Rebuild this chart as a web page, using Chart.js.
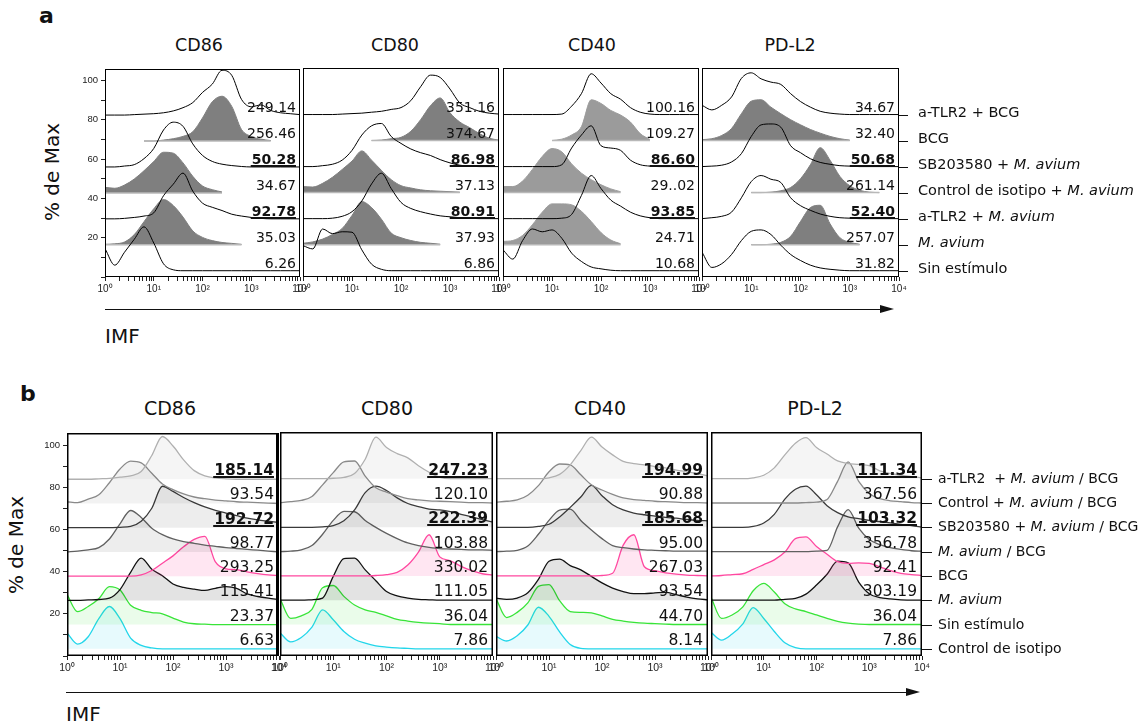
<!DOCTYPE html>
<html><head><meta charset="utf-8">
<script src="https://cdn.jsdelivr.net/npm/chart.js@4.4.1/dist/chart.umd.min.js"></script>
<style>
html,body{margin:0;padding:0;background:#fff;}
body{width:1148px;height:726px;position:relative;overflow:hidden;font-family:"DejaVu Sans",sans-serif;color:#111;}
.t{position:absolute;white-space:nowrap;line-height:1;}
.c{text-align:center;width:120px;}
canvas{position:absolute;}
.arrow{position:absolute;height:0;border-top:1.5px solid #111;}
.head{position:absolute;width:0;height:0;border-top:4px solid transparent;border-bottom:4px solid transparent;border-left:14px solid #111;}
.rot{transform:translate(-50%,-50%) rotate(-90deg);}
</style></head><body>
<div class="t" style="left:39px;top:5px;font-size:22px;font-weight:bold">a</div>
<div class="t" style="left:20px;top:383px;font-size:22px;font-weight:bold">b</div>
<div class="t c" style="left:139px;top:37px;font-size:17.5px">CD86</div>
<div class="t c" style="left:335px;top:37px;font-size:17.5px">CD80</div>
<div class="t c" style="left:532px;top:37px;font-size:17.5px">CD40</div>
<div class="t c" style="left:730px;top:37px;font-size:17.5px">PD-L2</div>
<div class="t c" style="left:110px;top:399px;font-size:19px">CD86</div>
<div class="t c" style="left:327px;top:399px;font-size:19px">CD80</div>
<div class="t c" style="left:540px;top:399px;font-size:19px">CD40</div>
<div class="t c" style="left:755px;top:399px;font-size:19px">PD-L2</div>
<div class="t rot" style="left:52px;top:172px;font-size:20px">% de Max</div>
<div class="t rot" style="left:16px;top:545px;font-size:20px">% de Max</div>
<div class="t" style="left:105px;top:326px;font-size:20px">IMF</div>
<div class="t" style="left:66px;top:704px;font-size:20px">IMF</div>
<div class="arrow" style="left:105px;top:308.5px;width:778px"></div>
<div class="head" style="left:880px;top:305px"></div>
<div class="arrow" style="left:66px;top:691.5px;width:842px"></div>
<div class="head" style="left:906px;top:688px"></div>
<script>
// ---------- DATA ----------
const LOG_GRID = [0,0.2,0.4,0.6,0.8,1,1.2,1.4,1.6,1.8,2,2.2,2.4,2.6,2.8,3,3.2,3.4,3.6,3.8,4];
const MARKERS = ['CD86','CD80','CD40','PD-L2'];
const Y_TICKS = [0,10,20,30,40,50,60,70,80,90,100];

// panel a (top to bottom)
const A_LABELS = ['a-TLR2 + BCG','BCG','SB203580 + *M. avium*','Control de isotipo + *M. avium*','a-TLR2 + *M. avium*','*M. avium*','Sin estímulo'];
const A_FILLED = [false,true,false,true,false,true,false];
const A_BOLD = [2,4];
const A_MFI_CD86 = ['249.14','256.46','50.28','34.67','92.78','35.03','6.26'];
const A_MFI_CD80 = ['351.16','374.67','86.98','37.13','80.91','37.93','6.86'];
const A_MFI_CD40 = ['100.16','109.27','86.60','29..02','93.85','24.71','10.68'];
const A_MFI_PDL2 = ['34.67','32.40','50.68','261.14','52.40','257.07','31.82'];
const A_CD86 = [
 [0,0,0,1,2,3,5,9,16,27,49,67,97,86,34,18,22,10,5,3,1],
 [null,null,null,null,0,0,2,5,10,20,50,85,97,75,25,10,4,1,null,null,null],
 [0,0,2,5,18,40,80,97,88,50,25,12,6,3,1,0,0,0,0,0,0],
 [12,10,17,30,48,68,88,86,65,36,15,7,2,null,null,null,null,null,null,null,null],
 [0,0,1,3,6,13,50,75,99,60,34,25,18,10,6,3,1,0,0,0,0],
 [1,2,6,22,50,78,98,85,60,30,16,9,5,3,1,null,null,null,null,null,null],
 [48,12,40,68,95,60,15,2,0,0,0,0,0,0,0,0,0,0,0,0,0]];
const A_CD80 = [
 [0,0,0,0,1,2,3,5,7,11,15,30,60,85,80,55,25,15,7,3,1],
 [null,null,null,null,null,null,null,0,1,4,7,20,45,75,92,60,40,28,15,5,1],
 [0,0,2,5,14,35,68,88,93,65,50,38,30,24,15,8,3,1,0,0,0],
 [13,12,20,33,50,68,90,70,48,28,15,10,6,4,3,2,1,null,null,null,null],
 [0,0,0,1,5,15,38,75,98,65,35,22,15,10,6,4,2,1,0,0,0],
 [3,6,12,22,35,63,93,80,55,25,15,9,5,3,1,null,null,null,null,null,null],
 [54,47,90,80,84,83,45,14,3,0,0,0,0,0,0,0,0,0,0,0,0]];
const A_CD40 = [
 [0,0,0,0,0,0,1,18,45,88,68,45,33,15,5,1,0,0,0,0,0],
 [null,null,null,null,null,0,3,12,30,88,80,65,55,40,15,2,null,null,null,null,null],
 [0,0,0,0,0,0,4,40,68,88,45,40,35,14,4,1,0,0,0,0,0],
 [13,13,25,50,78,95,88,62,42,28,17,8,2,null,null,null,null,null,null,null,null],
 [0,0,0,0,0,0,1,9,50,93,65,40,27,14,6,2,0,0,0,0,0],
 [7,9,20,43,70,88,88,86,72,50,26,10,2,null,null,null,null,null,null,null,null],
 [45,25,65,90,84,88,70,38,20,8,4,1,0,0,0,0,0,0,0,0,0]];
const A_PDL2 = [
 [20,10,20,38,78,90,77,70,65,45,28,16,7,3,1,0,0,0,0,0,0],
 [2,4,11,26,58,85,88,72,58,45,34,24,16,9,4,1,null,null,null,null,null],
 [0,1,3,10,28,65,90,92,85,45,30,17,9,5,2,1,0,0,0,0,0],
 [null,null,null,null,null,0,0,1,4,11,30,60,97,70,35,15,5,1,0,null,null],
 [0,2,5,14,45,80,93,85,78,45,28,18,10,5,2,1,0,0,0,0,0],
 [null,null,null,null,null,0,0,1,5,18,50,80,85,45,15,5,1,null,null,null,null],
 [40,7,15,35,65,85,88,78,55,35,22,12,6,3,1,0,0,0,0,0,0]];

// panel b (top to bottom)
const B_LABELS = ['a-TLR2  + *M. avium* / BCG','Control + *M. avium* / BCG','SB203580 + *M. avium* / BCG','*M. avium* / BCG','BCG','*M. avium*','Sin estímulo','Control de isotipo'];
const B_BOLD = [0,2];
const B_MFI_CD86 = ['185.14','93.54','192.72','98.77','293.25','115.41','23.37','6.63'];
const B_MFI_CD80 = ['247.23','120.10','222.39','103.88','330.02','111.05','36.04','7.86'];
const B_MFI_CD40 = ['194.99','90.88','185.68','95.00','267.03','93.54','44.70','8.14'];
const B_MFI_PDL2 = ['111.34','367.56','103.32','356.78','92.41','303.19','36.04','7.86'];
const B_CD86 = [
 [0,0,0,1,2,5,8,18,55,99,77,45,20,8,3,1,0,0,0,0,0],
 [4,2,10,20,48,80,98,94,70,45,32,22,15,11,8,6,4,3,2,1,0],
 [0,0,0,0,0,1,3,15,45,96,84,70,58,48,40,34,28,22,18,15,12],
 [0,2,5,10,30,65,96,80,55,40,30,24,20,16,13,10,8,6,4,2,0],
 [0,0,0,0,0,0,0,3,13,30,47,68,85,92,33,17,15,10,6,3,1],
 [0,0,1,2,5,25,65,98,72,57,38,30,26,23,28,32,28,15,9,5,2],
 [70,30,42,60,88,80,45,33,28,25,15,6,2,1,0,0,0,0,0,0,0],
 [37,11,28,70,98,70,25,8,2,0,0,0,0,0,0,0,0,0,0,0,0]];
const B_CD80 = [
 [0,0,0,0,0,1,3,12,45,96,72,58,48,30,15,3,0,0,0,0,0],
 [1,3,6,15,42,70,95,97,62,35,25,17,10,7,5,4,3,2,1,1,0],
 [0,0,0,0,1,4,15,40,80,95,85,68,55,48,42,40,36,30,24,18,12],
 [0,1,4,14,40,72,93,92,72,56,42,30,20,14,10,7,6,5,4,4,3],
 [0,0,0,0,0,0,0,0,0,1,3,8,25,55,95,44,35,22,12,5,2],
 [0,0,0,1,5,55,96,97,70,45,20,10,5,2,1,0,0,0,0,0,0],
 [60,14,20,35,85,90,65,45,34,28,20,12,8,5,3,2,0,0,0,0,0],
 [37,16,26,50,90,67,40,22,13,7,4,2,1,0,0,0,0,0,0,0,0]];
const B_CD40 = [
 [0,0,0,0,0,2,10,32,65,96,73,55,40,35,32,28,25,20,16,12,6],
 [2,4,7,18,40,72,90,88,65,42,30,20,12,8,6,4,3,2,1,1,0],
 [0,0,0,0,2,7,24,46,70,97,73,52,40,33,29,26,23,21,18,16,15],
 [0,1,3,13,40,72,96,98,72,50,30,14,9,6,4,3,2,1,1,1,1],
 [0,0,0,0,0,0,0,0,0,0,1,6,71,95,21,12,7,4,2,1,0],
 [5,2,5,17,48,90,95,80,70,55,40,28,20,15,15,17,18,13,7,3,1],
 [60,16,28,50,88,92,55,30,28,27,20,12,8,5,3,2,1,0,0,0,0],
 [29,18,30,55,96,75,39,10,1,0,0,0,0,0,0,0,0,0,0,0,0]];
const B_PDL2 = [
 [0,0,0,0,2,8,25,55,82,95,72,57,41,35,33,30,18,12,8,5,2],
 [0,0,0,0,0,0,0,0,0,1,2,8,50,95,50,22,10,5,3,1,0],
 [0,0,0,0,2,10,30,65,88,95,75,50,34,24,20,16,13,10,7,4,0],
 [0,0,0,0,0,0,0,0,0,0,1,3,57,97,54,28,16,9,5,2,1],
 [0,1,3,5,15,26,37,55,86,90,68,50,33,29,30,29,21,12,6,3,1],
 [0,0,0,0,0,0,0,2,4,14,35,60,90,86,42,15,6,3,1,0,0],
 [63,14,22,40,78,95,75,48,36,30,22,14,7,3,1,0,0,0,0,0,0],
 [38,20,34,57,95,70,40,14,3,0,0,0,0,0,0,0,0,0,0,0,0]];

// ---------- STYLE / LAYOUT ----------
const B_LINE = ['#b0b0b0','#8a8a8a','#3a3a3a','#606060','#ff48a0','#111111','#38e438','#22d6ea'];
const B_FILL = ['rgba(0,0,0,0.04)','rgba(0,0,0,0.05)','rgba(0,0,0,0.07)','rgba(0,0,0,0.07)','rgba(255,80,160,0.14)','rgba(0,0,0,0.11)','rgba(60,225,60,0.11)','rgba(40,210,235,0.11)'];
const A_FILLCOL = ['#7f7f7f','#7f7f7f','#9b9b9b','#7f7f7f'];
const SUP = ['\u2070','\u00b9','\u00b2','\u00b3','\u2074'];
const YW = 45, PT = 8, XH = 24;

const X_TICKS = [];
for (let e = 0; e < 4; e++) for (let m = 1; m < 10; m++) X_TICKS.push(m * Math.pow(10, e));
X_TICKS.push(10000);

const overlay = {
  id: 'overlay',
  afterDatasetsDraw(chart, args, o) {
    const ctx = chart.ctx, a = chart.chartArea, y = chart.scales.y;
    ctx.save();
    ctx.strokeStyle = '#000'; ctx.lineWidth = o.frame;
    const L = Math.round(a.left), T = Math.round(a.top), R = Math.round(a.right), B = Math.round(a.bottom);
    const h = o.frame / 2;
    ctx.strokeRect(L + h, T + h, R - L - o.frame, B - T - o.frame);
    if (o.rightExtra) { ctx.lineWidth = o.rightExtra; ctx.beginPath(); ctx.moveTo(R - o.rightExtra/2, T); ctx.lineTo(R - o.rightExtra/2, B); ctx.stroke(); }
    const n = o.mfi.length;
    ctx.fillStyle = '#111'; ctx.textAlign = 'right'; ctx.textBaseline = 'alphabetic';
    o.mfi.forEach((txt, k) => {
      const base = o.base0 + (n - 1 - k) * o.step;
      const py = Math.round(y.getPixelForValue(base)) - o.lift;
      const bold = o.bold.includes(k);
      ctx.font = (bold ? 'bold ' : '') + o.fs + 'px "DejaVu Sans"';
      const xr = a.right - o.inset;
      ctx.fillText(txt, xr, py);
      if (bold) { const w = ctx.measureText(txt).width; ctx.fillRect(xr - w - 1, py + 1, w + 1, 2); }
    });
    if (o.labels) {
      o.labels.forEach((lab, k) => {
        const base = o.base0 + (n - 1 - k) * o.step;
        const py = Math.round(y.getPixelForValue(base)) + 0.5;
        ctx.strokeStyle = '#111'; ctx.lineWidth = 1;
        ctx.beginPath(); ctx.moveTo(a.right, py); ctx.lineTo(a.right + o.tick, py); ctx.stroke();
        let x = a.right + o.gap; const ty = py + o.labelDy;
        ctx.textAlign = 'left'; ctx.textBaseline = 'middle'; ctx.fillStyle = '#111';
        lab.split('*').forEach((seg, i) => {
          ctx.font = (i % 2 ? 'italic ' : '') + o.lfs + 'px "DejaVu Sans"';
          ctx.fillText(seg, x, ty);
          x += ctx.measureText(seg).width;
        });
      });
    }
    ctx.restore();
  }
};

function makeChart(s) {
  const W = (s.r - s.l) + YW + s.padR;
  const H = (s.b - s.t) + PT + XH;
  const cv = document.createElement('canvas');
  cv.width = W; cv.height = H;
  cv.style.left = (s.l - YW) + 'px'; cv.style.top = (s.t - PT) + 'px';
  cv.style.width = W + 'px'; cv.style.height = H + 'px';
  document.body.appendChild(cv);
  const n = s.curves.length;
  const datasets = [];
  s.curves.forEach((vals, k) => {
    const base = s.base0 + (n - 1 - k) * s.step;
    const pts = LOG_GRID.map((L, j) => ({ x: Math.pow(10, L), y: vals[j] == null ? null : base + vals[j] * s.scale }));
    if (s.mode === 'a') {
      if (s.filled[k]) {
        datasets.push({ data: pts, fill: { value: base }, backgroundColor: s.fillColor, borderColor: s.fillColor, borderWidth: 1, order: 3 });
        const idx = vals.map((v, j) => v == null ? -1 : j).filter(j => j >= 0);
        datasets.push({ data: [{ x: Math.pow(10, LOG_GRID[idx[0]]), y: base }, { x: Math.pow(10, LOG_GRID[idx[idx.length - 1]]), y: base }],
          borderColor: '#b8b8b8', borderWidth: 1.5, fill: false, order: 2 });
      } else {
        datasets.push({ data: pts, borderColor: '#000', borderWidth: 1, fill: false, order: 1 });
      }
    } else {
      datasets.push({ data: pts, borderColor: B_LINE[k], backgroundColor: B_FILL[k], fill: { value: base }, borderWidth: 1.3, order: 1 });
    }
  });
  new Chart(cv, {
    type: 'line',
    data: { datasets },
    options: {
      responsive: false, animation: false, devicePixelRatio: 1,
      layout: { padding: { left: 0, top: PT, right: s.padR, bottom: 0 } },
      elements: { point: { radius: 0 }, line: { cubicInterpolationMode: 'monotone' } },
      plugins: { legend: { display: false }, tooltip: { enabled: false }, overlay: s.ov },
      scales: {
        x: {
          type: 'logarithmic', min: 1, max: 10000,
          afterFit: sc => { sc.height = XH; },
          afterBuildTicks: sc => { sc.ticks = X_TICKS.map(v => ({ value: v })); },
          border: { display: false },
          grid: { drawOnChartArea: false, tickLength: 4, color: '#222' },
          ticks: { autoSkip: false, maxRotation: 0, minRotation: 0, padding: 2, color: '#222',
            font: { family: 'Liberation Sans', size: s.tfs },
            callback: v => { const e = Math.log10(v); const r = Math.round(e); return Math.abs(e - r) < 1e-6 ? '10' + SUP[r] : ''; } }
        },
        y: {
          min: 0, max: 106,
          afterFit: sc => { sc.width = YW; },
          afterBuildTicks: sc => { sc.ticks = Y_TICKS.map(v => ({ value: v })); },
          border: { display: false },
          grid: { display: s.showY, drawOnChartArea: false, tickLength: 4, color: '#222' },
          ticks: { display: s.showY, padding: 3, color: '#222', font: { family: 'Liberation Sans', size: 9.5 },
            callback: v => (v > 0 && v % 20 === 0) ? String(v) : '' }
        }
      }
    },
    plugins: [overlay]
  });
}

const A_GEOM = [[105,300],[303,499],[503,699],[702,899]];
const B_GEOM = [[67,279],[280,493],[496,708],[711,922]];
const A_CURVES = [A_CD86, A_CD80, A_CD40, A_PDL2];
const A_MFI = [A_MFI_CD86, A_MFI_CD80, A_MFI_CD40, A_MFI_PDL2];
const B_CURVES = [B_CD86, B_CD80, B_CD40, B_PDL2];
const B_MFI = [B_MFI_CD86, B_MFI_CD80, B_MFI_CD40, B_MFI_PDL2];

MARKERS.forEach((m, i) => {
  const last = i === MARKERS.length - 1;
  makeChart({
    mode: 'a', l: A_GEOM[i][0], r: A_GEOM[i][1], t: 68, b: 277, padR: last ? 250 : 14,
    curves: A_CURVES[i], filled: A_FILLED, fillColor: A_FILLCOL[i],
    base0: 3.2, step: 13.2, scale: 0.235, showY: i === 0, tfs: 10,
    ov: { frame: 1, mfi: A_MFI[i], bold: A_BOLD, base0: 3.2, step: 13.2, fs: 14, lift: 3, inset: 4,
          labels: last ? A_LABELS : null, tick: 9, gap: 19, labelDy: -2, lfs: 14.5 }
  });
});
MARKERS.forEach((m, i) => {
  const last = i === MARKERS.length - 1;
  makeChart({
    mode: 'b', l: B_GEOM[i][0], r: B_GEOM[i][1], t: 432, b: 656, padR: last ? 226 : 14,
    curves: B_CURVES[i], base0: 3.4, step: 11.5, scale: 0.205, showY: i === 0, tfs: 10.5,
    ov: { frame: 1.5, rightExtra: i === 0 ? 3 : 0, mfi: B_MFI[i], bold: B_BOLD, base0: 3.4, step: 11.5, fs: 15.5, lift: 4, inset: 5,
          labels: last ? B_LABELS : null, tick: 10, gap: 16, labelDy: 0, lfs: 14 }
  });
});
</script>
</body></html>
